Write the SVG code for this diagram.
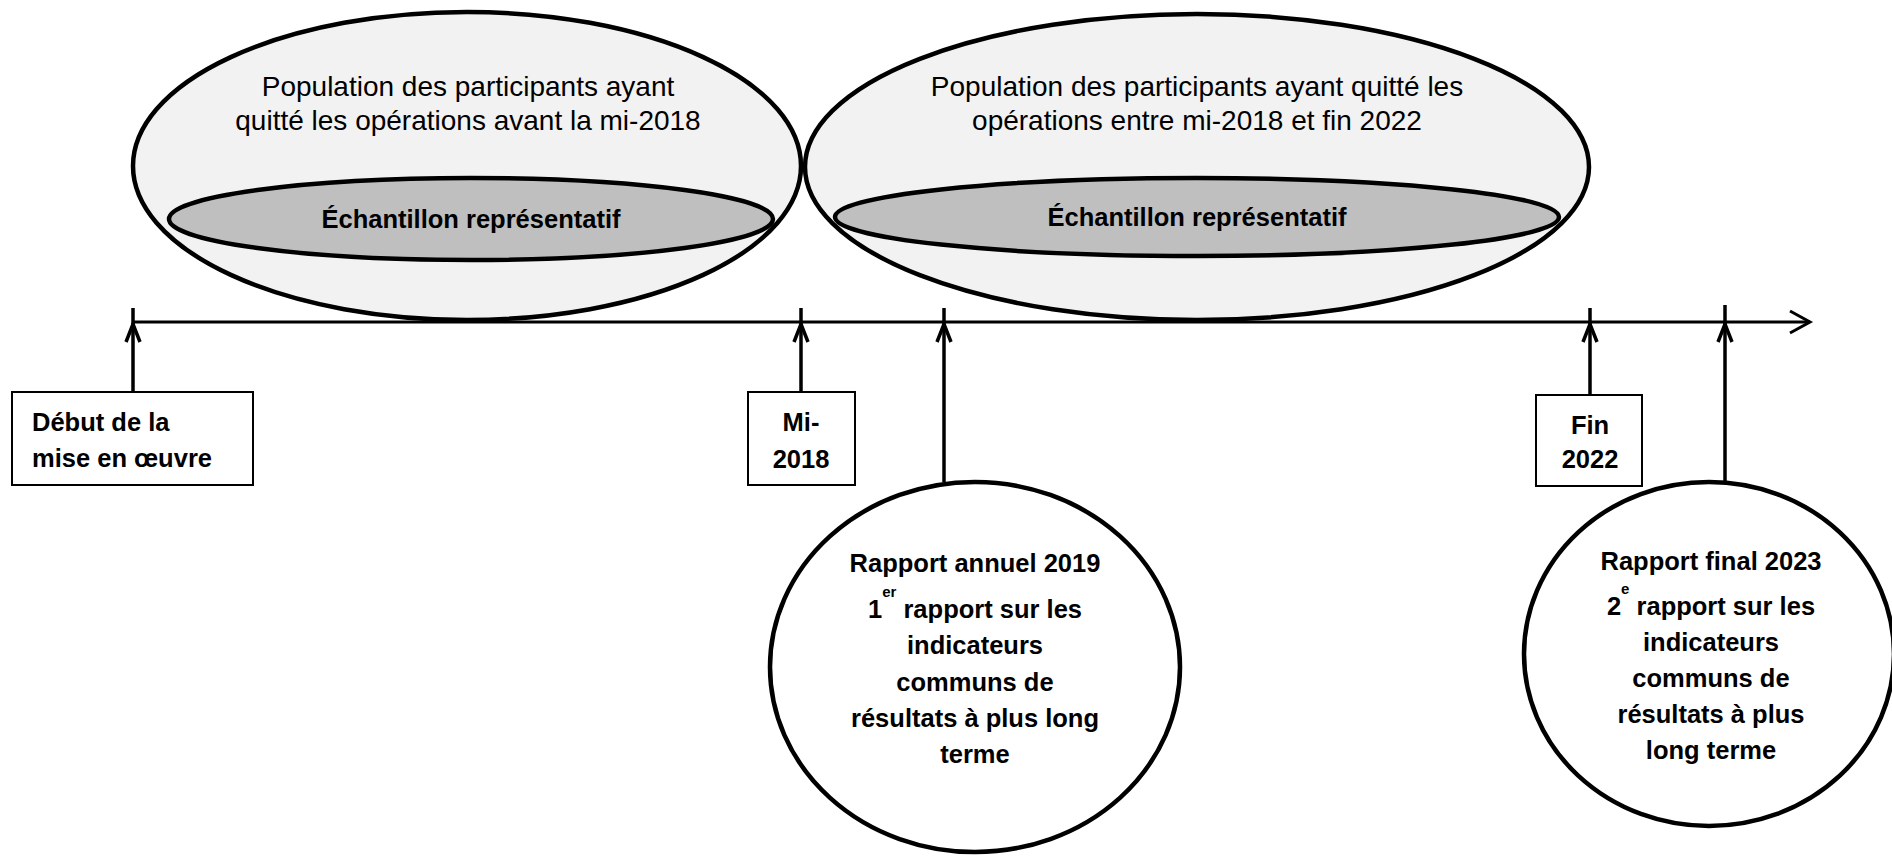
<svg xmlns="http://www.w3.org/2000/svg" width="1892" height="865" viewBox="0 0 1892 865">
<style>
.pop{fill:#f2f2f2;stroke:#000;stroke-width:4.5}
.smp{fill:#bfbfbf;stroke:#000;stroke-width:4.5}
.box{fill:#fff;stroke:#000;stroke-width:2}
.rep{fill:#fff;stroke:#000;stroke-width:4.5}
.t{font-family:"Liberation Sans",Arial,sans-serif;font-size:28px;fill:#000;text-anchor:middle}
.b{font-family:"Liberation Sans",Arial,sans-serif;font-size:25.5px;font-weight:bold;fill:#000;text-anchor:middle}
.bl{font-family:"Liberation Sans",Arial,sans-serif;font-size:25.5px;font-weight:bold;fill:#000}
.ln{fill:none;stroke:#000;stroke-width:3.5}
.ax{fill:none;stroke:#000;stroke-width:3}
</style>
<g id="pop1">
<ellipse class="pop" cx="467" cy="166" rx="334" ry="154"/>
<text class="t" x="468" y="96">Population des participants ayant</text>
<text class="t" x="468" y="130">quitté les opérations avant la mi-2018</text>
<g id="sample1">
<ellipse class="smp" cx="471" cy="219" rx="302" ry="41"/>
<text class="b" x="471" y="228">Échantillon représentatif</text>
</g>
</g>
<g id="pop2">
<ellipse class="pop" cx="1197" cy="167" rx="392" ry="153"/>
<text class="t" x="1197" y="96">Population des participants ayant quitté les</text>
<text class="t" x="1197" y="130">opérations entre mi-2018 et fin 2022</text>
<g id="sample2">
<ellipse class="smp" cx="1197" cy="217" rx="362" ry="39"/>
<text class="b" x="1197" y="226">Échantillon représentatif</text>
</g>
</g>
<g id="connectors">
<line class="ax" x1="133" y1="322" x2="1810" y2="322"/>
<polyline class="ax" points="1790,311 1810,322 1790,333"/>
<line class="ln" x1="133" y1="392" x2="133" y2="308"/>
<polyline class="ln" points="126,342 133,324 140,342"/>
<line class="ln" x1="801" y1="392" x2="801" y2="308"/>
<polyline class="ln" points="794,342 801,324 808,342"/>
<line class="ln" x1="944" y1="482" x2="944" y2="308"/>
<polyline class="ln" points="937,342 944,324 951,342"/>
<line class="ln" x1="1590" y1="395" x2="1590" y2="308"/>
<polyline class="ln" points="1583,342 1590,324 1597,342"/>
<line class="ln" x1="1725" y1="485" x2="1725" y2="305"/>
<polyline class="ln" points="1718,342 1725,324 1732,342"/>
</g>
<g id="debut">
<rect class="box" x="12" y="392" width="241" height="93"/>
<text class="bl" x="32" y="431">Début de la</text>
<text class="bl" x="32" y="467">mise en œuvre</text>
</g>
<g id="mi2018">
<rect class="box" x="748" y="392" width="107" height="93"/>
<text class="b" x="801" y="431">Mi-</text>
<text class="b" x="801" y="468">2018</text>
</g>
<g id="fin2022">
<rect class="box" x="1536" y="395" width="106" height="91"/>
<text class="b" x="1590" y="434">Fin</text>
<text class="b" x="1590" y="468">2022</text>
</g>
<g id="rapport2019">
<ellipse class="rep" cx="975" cy="667" rx="205" ry="185"/>
<text class="b" x="975" y="572">Rapport annuel 2019</text>
<text class="b" x="975" y="618">1<tspan font-size="15" dy="-21">er</tspan><tspan dy="21"> rapport sur les</tspan></text>
<text class="b" x="975" y="654">indicateurs</text>
<text class="b" x="975" y="691">communs de</text>
<text class="b" x="975" y="727">résultats à plus long</text>
<text class="b" x="975" y="763">terme</text>
</g>
<g id="rapport2023">
<ellipse class="rep" cx="1709" cy="654" rx="185" ry="172"/>
<text class="b" x="1711" y="570">Rapport final 2023</text>
<text class="b" x="1711" y="615">2<tspan font-size="15" dy="-21">e</tspan><tspan dy="21"> rapport sur les</tspan></text>
<text class="b" x="1711" y="651">indicateurs</text>
<text class="b" x="1711" y="687">communs de</text>
<text class="b" x="1711" y="723">résultats à plus</text>
<text class="b" x="1711" y="759">long terme</text>
</g>
</svg>
